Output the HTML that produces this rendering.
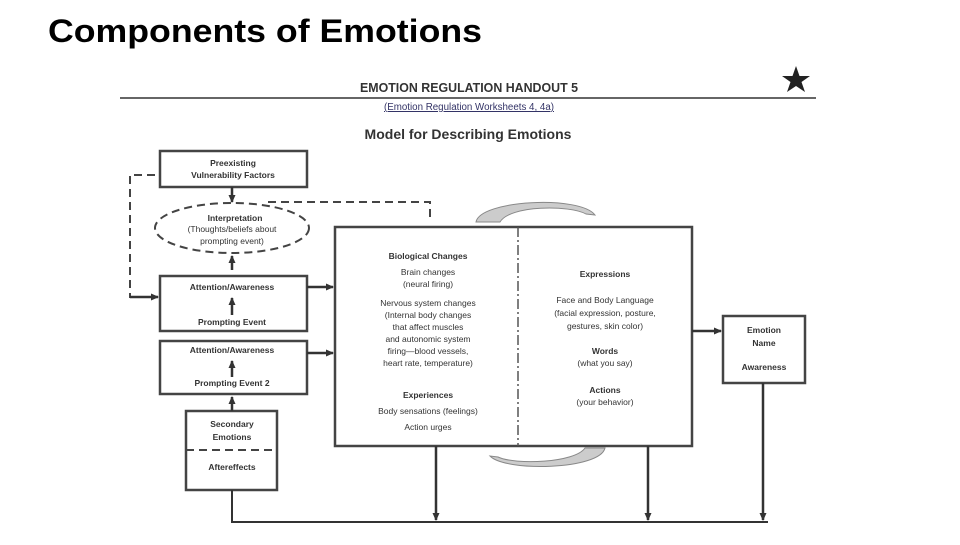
<!DOCTYPE html>
<html><head><meta charset="utf-8"><style>
body{margin:0;background:#fff;width:960px;height:540px;overflow:hidden;font-family:"Liberation Sans",Arial,sans-serif}
</style></head><body>
<svg width="960" height="540" xmlns="http://www.w3.org/2000/svg" font-family="Liberation Sans, Arial, sans-serif">
<defs><marker id="a" markerUnits="userSpaceOnUse" markerWidth="8" markerHeight="8" refX="7" refY="4" orient="auto"><path d="M0,0.5L8,4L0,7.5z" fill="#333"/></marker></defs>
<text x="48" y="42" font-size="32" font-weight="bold" fill="#000" textLength="434" lengthAdjust="spacingAndGlyphs">Components of Emotions</text>
<text x="469" y="92" font-size="13" font-weight="bold" text-anchor="middle" fill="#333" textLength="218" lengthAdjust="spacingAndGlyphs">EMOTION REGULATION HANDOUT 5</text>
<polygon points="796,66 799.5,76 810,76 801.5,82 805,92 796,86 787,92 790.5,82 782,76 792.5,76" fill="#222"/>
<line x1="120" y1="98" x2="816" y2="98" stroke="#333" stroke-width="1.5"/>
<text x="469" y="110" font-size="10" text-anchor="middle" fill="#336" text-decoration="underline" textLength="170" lengthAdjust="spacingAndGlyphs">(Emotion Regulation Worksheets 4, 4a)</text>
<text x="468" y="139" font-size="14" font-weight="bold" text-anchor="middle" fill="#333">Model for Describing Emotions</text>
<g fill="none" stroke="#444" stroke-width="2.5">
<rect x="160" y="151" width="147" height="36"/>
<rect x="160" y="276" width="147" height="55"/>
<rect x="160" y="341" width="147" height="53"/>
<rect x="186" y="411" width="91" height="79"/>
<rect x="335" y="227" width="357" height="219"/>
<rect x="723" y="316" width="82" height="67"/>
</g>
<g fill="none" stroke="#444" stroke-width="2" stroke-dasharray="8,5">
<ellipse cx="232" cy="228" rx="77" ry="25"/>
<line x1="186" y1="450" x2="277" y2="450"/>
<polyline points="155,175 130,175 130,297 155,297"/>
<polyline points="268,202 430,202 430,222"/>
</g>
<line x1="518" y1="227" x2="518" y2="446" stroke="#555" stroke-width="1.5" stroke-dasharray="10,3,2,3"/>
<g stroke="#333" stroke-width="2.5" fill="none" marker-end="url(#a)">
<line x1="130" y1="297" x2="158" y2="297"/>
<line x1="232" y1="187" x2="232" y2="202"/>
<line x1="232" y1="270" x2="232" y2="256"/>
<line x1="232" y1="315" x2="232" y2="298"/>
<line x1="232" y1="377" x2="232" y2="361"/>
<line x1="232" y1="411" x2="232" y2="397"/>
<line x1="307" y1="287" x2="333" y2="287"/>
<line x1="307" y1="353" x2="333" y2="353"/>
<line x1="692" y1="331" x2="721" y2="331"/>
<line x1="436" y1="446" x2="436" y2="520"/>
<line x1="648" y1="446" x2="648" y2="520"/>
<line x1="763" y1="383" x2="763" y2="520"/>
</g>
<polyline points="232,490 232,522 768,522" fill="none" stroke="#333" stroke-width="2"/>
<path d="M476,222 C480,200 580,195 595,215 L586,214 C570,205 510,205 500,222Z" fill="#ccc" stroke="#888"/>
<path d="M605,448 C600,470 505,472 490,456 L498,457 C515,465 575,463 585,448Z" fill="#ccc" stroke="#888"/>
<g font-size="8.5" fill="#333" text-anchor="middle">
<text x="233" y="166" font-weight="bold">Preexisting</text><text x="233" y="178" font-weight="bold">Vulnerability Factors</text>
<text x="235" y="221" font-weight="bold">Interpretation</text><text x="232" y="232">(Thoughts/beliefs about</text><text x="232" y="244">prompting event)</text>
<text x="232" y="290" font-weight="bold">Attention/Awareness</text>
<text x="232" y="325" font-weight="bold">Prompting Event</text>
<text x="232" y="353" font-weight="bold">Attention/Awareness</text>
<text x="232" y="386" font-weight="bold">Prompting Event 2</text>
<text x="232" y="427" font-weight="bold">Secondary</text><text x="232" y="440" font-weight="bold">Emotions</text>
<text x="232" y="470" font-weight="bold">Aftereffects</text>
<text x="428" y="259" font-weight="bold">Biological Changes</text>
<text x="428" y="275">Brain changes</text><text x="428" y="287">(neural firing)</text>
<text x="428" y="306">Nervous system changes</text>
<text x="428" y="318">(Internal body changes</text>
<text x="428" y="330">that affect muscles</text>
<text x="428" y="342">and autonomic system</text>
<text x="428" y="354">firing—blood vessels,</text>
<text x="428" y="366">heart rate, temperature)</text>
<text x="428" y="398" font-weight="bold">Experiences</text>
<text x="428" y="414">Body sensations (feelings)</text>
<text x="428" y="430">Action urges</text>
<text x="605" y="277" font-weight="bold">Expressions</text>
<text x="605" y="303">Face and Body Language</text>
<text x="605" y="316">(facial expression, posture,</text>
<text x="605" y="329">gestures, skin color)</text>
<text x="605" y="354" font-weight="bold">Words</text><text x="605" y="366">(what you say)</text>
<text x="605" y="393" font-weight="bold">Actions</text><text x="605" y="405">(your behavior)</text>
<text x="764" y="333" font-weight="bold">Emotion</text><text x="764" y="346" font-weight="bold">Name</text>
<text x="764" y="370" font-weight="bold">Awareness</text>
</g>
</svg>
</body></html>
